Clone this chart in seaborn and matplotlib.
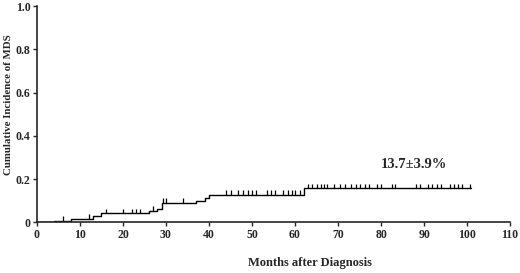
import numpy as np
import pandas as pd
import matplotlib
matplotlib.use("Agg")
import matplotlib.pyplot as plt
import seaborn as sns

# --- data ---
step_months = [0, 4, 8, 13, 15, 26, 28, 29, 37, 39, 40, 62, 101]
step_levels = [0, 0.007, 0.018, 0.030, 0.042, 0.053, 0.061, 0.091, 0.101, 0.112, 0.127, 0.158, 0.158]

censor_months = [6, 12, 16, 20, 22, 23, 24, 27, 29.4, 30, 34,
                 44, 45, 46.8, 48, 49, 50, 51, 53.4, 54.4, 55.3, 57.3, 58.3, 59.2, 60.1, 61.1,
                 63, 64, 65, 66, 66.7, 67.5, 69, 70.5, 71.6, 73, 74.2, 75.1, 76.3, 77.2,
                 79, 80, 82.5, 83.3, 88.2, 89, 90.9, 91.8, 93, 94, 96, 96.9, 97.9, 98.8, 100.6]

x_ticks = list(range(0, 111, 10))
y_ticks = [0, 0.2, 0.4, 0.6, 0.8, 1.0]
y_tick_labels = ["0", "0.2", "0.4", "0.6", "0.8", "1.0"]
annotation = "13.7\u00b13.9%"

sns.set_style("ticks")
plt.rcParams["font.family"] = ["Liberation Serif", "DejaVu Serif"]
plt.rcParams["font.weight"] = "bold"

fig = plt.figure(figsize=(5.2, 2.73), dpi=100)
ax = fig.add_axes([0.071, 0.185, 0.91, 0.793])

curve = pd.DataFrame({"month": step_months, "cuminc": step_levels})
sns.lineplot(data=curve, x="month", y="cuminc", drawstyle="steps-post",
             estimator=None, color="black", linewidth=1.0, ax=ax)

# censor marks: short upward ticks on the curve
idx = np.searchsorted(step_months, censor_months, side="right") - 1
c_levels = np.array(step_levels)[idx]
ax.vlines(censor_months, c_levels, c_levels + 0.022, color="black", linewidth=0.9)

ax.text(87.7, 0.27, annotation, ha="center", va="center", fontsize=10.5, fontweight="bold")

ax.set_xlim(0, 110)
ax.set_ylim(0, 1.0)
ax.set_xticks(x_ticks)
ax.set_yticks(y_ticks)
ax.set_yticklabels(y_tick_labels)
ax.tick_params(labelsize=8.5, length=3, width=1, direction="out", pad=1.5)
for lbl in ax.get_xticklabels() + ax.get_yticklabels():
    lbl.set_fontweight("bold")

ax.set_xlabel("Months after Diagnosis", fontsize=9, fontweight="bold")
ax.set_ylabel("Cumulative Incidence of MDS", fontsize=7.8, fontweight="bold")
ax.xaxis.set_label_coords(0.577, -0.16)
ax.yaxis.set_label_coords(-0.05, 0.543)
sns.despine(ax=ax)
for s in ["left", "bottom"]:
    ax.spines[s].set_linewidth(1.2)

fig.savefig("out.png", dpi=100)
